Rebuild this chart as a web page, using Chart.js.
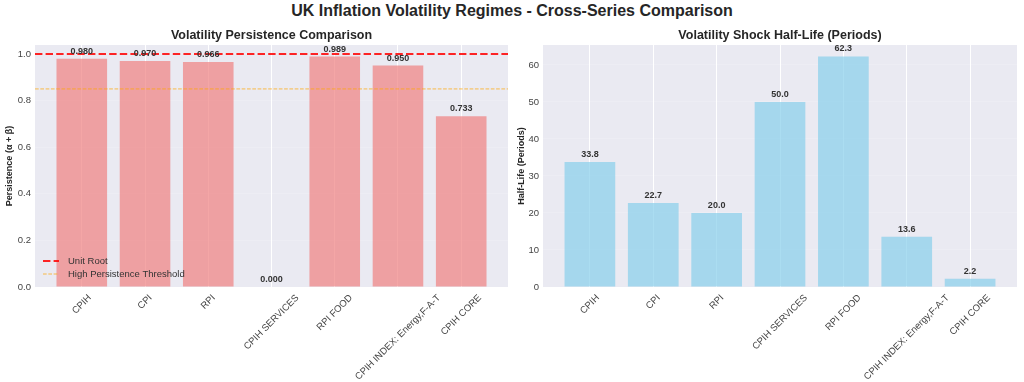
<!DOCTYPE html>
<html>
<head>
<meta charset="utf-8">
<script src="https://cdn.jsdelivr.net/npm/chart.js@4.4.0/dist/chart.umd.min.js"></script>
<style>
  body { margin: 0; background: #fff; width: 1024px; height: 382px; overflow: hidden; position: relative; font-family: "Liberation Sans", Arial, sans-serif; }
  #title { position: absolute; top: 2px; left: 0; width: 1024px; text-align: center; font-weight: bold; font-size: 16px; color: #262626; }
  .box { position: absolute; top: 0; width: 512px; height: 382px; }
</style>
</head>
<body>
<div id="title">UK Inflation Volatility Regimes - Cross-Series Comparison</div>
<div class="box" style="left:0"><canvas id="left"></canvas></div>
<div class="box" style="left:512px"><canvas id="right"></canvas></div>
<script>
const series = ["CPIH", "CPI", "RPI", "CPIH SERVICES", "RPI FOOD", "CPIH INDEX: Energy,F-A-T", "CPIH CORE"];
const persistence = [0.980, 0.970, 0.966, 0.000, 0.989, 0.950, 0.733];
const halfLife = [33.8, 22.7, 20.0, 50.0, 62.3, 13.6, 2.2];
const unitRoot = 1.0;
const highThreshold = 0.85;
const persistTicks = [0, 0.2, 0.4, 0.6, 0.8, 1.0];
const halfLifeTicks = [0, 10, 20, 30, 40, 50, 60];

const FONT = "'Liberation Sans', Arial, sans-serif";
const xMin = -0.74, xMax = series.length - 1 + 0.74;

// value labels, rotated x labels (centred like matplotlib), subplot title, legend
const barLabels = {
  id: "barLabels",
  afterDatasetsDraw(chart, args, opts) {
    const ctx = chart.ctx;
    const meta = chart.getDatasetMeta(0);
    const a = chart.chartArea;
    ctx.save();
    ctx.font = "bold 9px " + FONT;
    ctx.fillStyle = "#333";
    ctx.textAlign = "center";
    ctx.textBaseline = "bottom";
    meta.data.forEach((el, i) => {
      ctx.fillText(opts.fmt(chart.data.datasets[0].data[i].y), el.x, el.y - 3);
    });

    // x tick labels
    const xs = chart.scales.x;
    ctx.font = "9.5px " + FONT;
    ctx.fillStyle = "#444";
    ctx.textBaseline = "middle";
    series.forEach((s, i) => {
      const w = ctx.measureText(s).width;
      const h = 9.5;
      const half = (w + h) * Math.SQRT1_2 / 2;
      ctx.save();
      ctx.translate(xs.getPixelForValue(i), a.bottom + 6 + half);
      ctx.rotate(-Math.PI / 4);
      ctx.fillText(s, 0, 0);
      ctx.restore();
    });

    ctx.font = "bold 12.5px " + FONT;
    ctx.fillStyle = "#262626";
    ctx.textBaseline = "middle";
    ctx.fillText(opts.title, (a.left + a.right) / 2, a.top - 9);
    if (opts.legend) {
      ctx.font = "9.5px " + FONT;
      ctx.textAlign = "left";
      opts.legend.forEach((it, k) => {
        const y = a.bottom - 26 + k * 13;
        ctx.strokeStyle = it.color;
        ctx.lineWidth = it.width;
        ctx.setLineDash(it.dash);
        ctx.beginPath();
        ctx.moveTo(a.left + 8, y);
        ctx.lineTo(a.left + 24, y);
        ctx.stroke();
        ctx.fillStyle = "#333";
        ctx.fillText(it.label, a.left + 33, y);
      });
    }
    ctx.restore();
  }
};

function xScale() {
  return {
    type: "linear",
    min: xMin,
    max: xMax,
    offset: false,
    afterBuildTicks: (axis) => { axis.ticks = series.map((s, i) => ({ value: i })); },
    afterFit: (axis) => { axis.height = 95; },
    grid: { color: "#ffffff", lineWidth: 1, drawTicks: false, offset: false },
    border: { display: false },
    ticks: { display: false }
  };
}

function yScale(max, ticks, title, width, fmt) {
  return {
    min: 0,
    max: max,
    afterBuildTicks: (axis) => { axis.ticks = ticks.map((v) => ({ value: v })); },
    afterFit: (axis) => { axis.width = width; },
    grid: { color: "rgba(255,255,255,0.15)", drawTicks: false },
    border: { display: false },
    title: { display: true, text: title, color: "#262626", font: { family: FONT, size: 9, weight: "bold" }, padding: { top: 4, bottom: 0 } },
    ticks: { padding: 4, color: "#444", font: { family: FONT, size: 9.5 }, callback: fmt }
  };
}

const bgPlugin = {
  id: "bg",
  beforeDraw(chart) {
    const a = chart.chartArea;
    chart.ctx.save();
    chart.ctx.fillStyle = "#EAEAF2";
    chart.ctx.fillRect(a.left, a.top, a.right - a.left, a.bottom - a.top);
    chart.ctx.restore();
  }
};

new Chart(document.getElementById("left"), {
  type: "bar",
  data: {
    datasets: [
      {
        data: persistence.map((v, i) => ({ x: i, y: v })),
        backgroundColor: "rgba(240,128,128,0.7)",
        barPercentage: 0.8,
        categoryPercentage: 1,
        order: 2
      },
      {
        type: "line",
        data: [{ x: xMin, y: unitRoot }, { x: xMax, y: unitRoot }],
        borderColor: "rgba(255,0,0,0.85)",
        borderWidth: 2,
        borderDash: [7.4, 3.2],
        pointRadius: 0,
        order: 1
      },
      {
        type: "line",
        data: [{ x: xMin, y: highThreshold }, { x: xMax, y: highThreshold }],
        borderColor: "rgba(255,165,0,0.7)",
        borderWidth: 1,
        borderDash: [3.7, 1.6],
        pointRadius: 0,
        order: 0
      }
    ]
  },
  options: {
    responsive: true,
    maintainAspectRatio: false,
    animation: false,
    layout: { padding: { top: 45, left: 0, right: 4, bottom: 0 } },
    plugins: {
      legend: { display: false },
      tooltip: { enabled: false },
      barLabels: {
        fmt: (v) => v.toFixed(3),
        title: "Volatility Persistence Comparison",
        legend: [
          { label: "Unit Root", color: "rgba(255,0,0,0.85)", width: 2, dash: [7.4, 3.2] },
          { label: "High Persistence Threshold", color: "rgba(255,165,0,0.7)", width: 1, dash: [3.7, 1.6] }
        ]
      }
    },
    scales: {
      x: xScale(),
      y: yScale(1.0385, persistTicks, "Persistence (α + β)", 35, (v) => v.toFixed(1))
    }
  },
  plugins: [bgPlugin, barLabels]
});

new Chart(document.getElementById("right"), {
  type: "bar",
  data: {
    datasets: [
      {
        data: halfLife.map((v, i) => ({ x: i, y: v })),
        backgroundColor: "rgba(135,206,235,0.7)",
        barPercentage: 0.8,
        categoryPercentage: 1
      }
    ]
  },
  options: {
    responsive: true,
    maintainAspectRatio: false,
    animation: false,
    layout: { padding: { top: 45, left: 0, right: 7, bottom: 0 } },
    plugins: {
      legend: { display: false },
      tooltip: { enabled: false },
      barLabels: { fmt: (v) => v.toFixed(1), title: "Volatility Shock Half-Life (Periods)" }
    },
    scales: {
      x: xScale(),
      y: yScale(65.4, halfLifeTicks, "Half-Life (Periods)", 31, (v) => String(v))
    }
  },
  plugins: [bgPlugin, barLabels]
});
</script>
</body>
</html>
